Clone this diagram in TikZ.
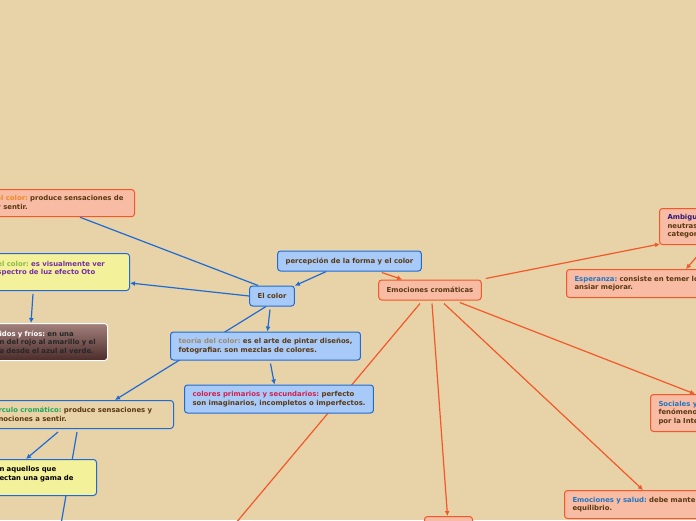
\documentclass[tikz,border=0pt]{standalone}
\usepackage{fontspec}
\setmainfont{DejaVu Sans}
\usepackage{xcolor}
\usetikzlibrary{arrows.meta,backgrounds}
\pgfdeclarelayer{edges}
\pgfsetlayers{background,edges,main}
\frenchspacing

\definecolor{bgcol}{HTML}{E8D3A8}
\definecolor{mapblue}{HTML}{1F6BD6}
\definecolor{bluefill}{HTML}{A8CAF8}
\definecolor{maporange}{HTML}{F2582A}
\definecolor{salmonfill}{HTML}{F8BBA3}
\definecolor{yellowfill}{HTML}{F4F19B}
\definecolor{txtbrown}{HTML}{5A3812}
\definecolor{lblorange}{HTML}{F08A24}
\definecolor{lblgreen}{HTML}{8DB84A}
\definecolor{lblpurple}{HTML}{7330A2}
\definecolor{lbltan}{HTML}{9C8A70}
\definecolor{lblcrimson}{HTML}{D0204C}
\definecolor{lblemerald}{HTML}{22A65A}
\definecolor{lblblue}{HTML}{1F78C1}
\definecolor{lblnavy}{HTML}{2E1A78}
\definecolor{browntop}{HTML}{A2807C}
\definecolor{brownbot}{HTML}{4C2C2A}

\begin{document}
\begin{tikzpicture}[
    x=1pt, y=-1pt,
    box/.style={draw, rounded corners=3pt, line width=1pt, inner xsep=8pt, inner ysep=6pt, align=left,
        text=txtbrown, font=\fontsize{6.9}{8.5}\selectfont\bfseries},
    bluebox/.style={box, draw=mapblue, fill=bluefill},
    salmonbox/.style={box, draw=maporange, fill=salmonfill},
    yellowbox/.style={box, draw=mapblue, fill=yellowfill},
    plainbox/.style={box, draw=mapblue},
    brownbox/.style={box, draw=white, top color=browntop, bottom color=brownbot, text=black!85},
    bluearrow/.style={draw=mapblue, line width=1.2pt, -{Latex[length=5pt,width=5pt]}},
    blueedge/.style={draw=mapblue, line width=1.2pt},
    orangearrow/.style={draw=maporange, line width=1.2pt, -{Latex[length=5pt,width=5pt]}},
    orangeedge/.style={draw=maporange, line width=1.2pt}
]
\useasboundingbox (0,0) rectangle (696,520);
\begin{pgfonlayer}{background}
\fill[bgcol] (0,0) rectangle (696,520);
\end{pgfonlayer}

\node[bluebox, minimum height=20pt] (percep) at (349.5,261) {percepción de la forma y el color};
\node[bluebox, minimum height=20pt] (elcolor) at (272,296) {El color};
\node[salmonbox, minimum height=20pt] (emoc) at (430,290) {Emociones cromáticas};

\node[bluebox, anchor=west, minimum height=28pt] (teoria) at (170,346)
    {{\color{lbltan}teoría del color:} es el arte de pintar diseños,\\fotografiar. son mezclas de colores.};
\node[bluebox, anchor=west, minimum height=28pt] (primarios) at (184,399)
    {{\color{lblcrimson}colores primarios y secundarios:} perfecto\\son imaginarios, incompletos o imperfectos.};

\node[salmonbox, anchor=north east, text width=130pt, minimum height=27pt] (sensacion) at (135,189)
    {{\color{lblorange}el color:} produce sensaciones de\\y sentir.};
\node[yellowbox, anchor=north east, text width=124pt, minimum height=37pt] (visual) at (130,253)
    {{\color{lblgreen}el color:} {\color{lblpurple}es visualmente ver}\\{\color{lblpurple}spectro de luz efecto Oto}\\\mbox{}};
\node[brownbox, anchor=north east, text width=100pt, minimum height=37pt] (calidos) at (108,323)
    {{\color{white}idos y fríos:} en una\\n del rojo al amarillo y el\\a desde el azul al verde.};
\node[plainbox, anchor=north east, text width=167pt, minimum height=28pt] (circulo) at (174,400)
    {{\color{lblemerald}rculo cromático:} produce sensaciones y\\nociones a sentir.};
\node[yellowbox, anchor=north east, text width=89pt, minimum height=36pt, text=black] (gama) at (97,459)
    {n aquellos que\\ectan una gama de\\\mbox{}};

\node[salmonbox, anchor=north west, text width=60pt, minimum height=36pt] (ambigu) at (659,208)
    {{\color{lblnavy}Ambigu}\\neutras\\categor};
\node[salmonbox, anchor=north west, text width=150pt, minimum height=28pt] (esperanza) at (566,269)
    {{\color{lblblue}Esperanza:} consiste en temer lo\\ansiar mejorar.};
\node[salmonbox, anchor=north west, text width=70pt, minimum height=37pt] (sociales) at (650,394)
    {{\color{lblblue}Sociales y}\\fenómeno\\por la Inte};
\node[salmonbox, anchor=north west, text width=150pt, minimum height=28pt] (salud) at (564,490)
    {{\color{lblblue}Emociones y salud:} debe mante\\equilibrio.};
\node[salmonbox, anchor=north west, minimum width=48pt, minimum height=20pt] (inferior) at (424,516) {};

\coordinate (fincirculo) at (60,530);
\coordinate (finemoc) at (230,530);

\begin{pgfonlayer}{edges}
\draw[bluearrow] (percep) -- (elcolor);
\draw[blueedge] ([xshift=9pt]elcolor.north west) -- ([xshift=-55pt]sensacion.south east);
\draw[bluearrow] (elcolor.west) -- ([yshift=-11pt]visual.east);
\draw[bluearrow] ([xshift=-2pt,yshift=-3pt]elcolor.south) -- ([xshift=2pt]teoria.north);
\draw[bluearrow] ([xshift=-6pt]elcolor.south) -- ([xshift=-59pt]circulo.north east);
\draw[bluearrow] ([xshift=5pt,yshift=-3pt]teoria.south) -- ([xshift=-4.5pt]primarios.north);
\draw[bluearrow] ([xshift=-97pt,yshift=-3pt]visual.south east) -- ([xshift=-77pt]calidos.north east);
\draw[bluearrow] ([xshift=-116pt,yshift=-3pt]circulo.south east) -- ([xshift=-71pt]gama.north east);
\draw[blueedge] ([xshift=-97pt,yshift=-3pt]circulo.south east) -- (fincirculo);

\draw[orangearrow] ([xshift=-40pt,yshift=-1pt]percep.south east) -- ([xshift=24pt]emoc.north west);
\draw[orangearrow] ([xshift=4pt,yshift=1pt]emoc.north east) -- ([xshift=1pt,yshift=1pt]ambigu.south west);
\draw[orangearrow] ([xshift=48pt]ambigu.south west) -- ([xshift=120pt]esperanza.north west);
\draw[orangeedge] ([xshift=-10pt,yshift=-3pt]emoc.south) -- (finemoc);
\draw[orangearrow] ([xshift=2pt,yshift=-3pt]emoc.south) -- ([xshift=-1pt]inferior.north);
\draw[orangearrow] ([xshift=14pt,yshift=-3pt]emoc.south) -- ([xshift=79pt]salud.north west);
\draw[orangearrow] ([xshift=-22pt,yshift=-2pt]emoc.south east) -- ([xshift=45pt]sociales.north west);
\end{pgfonlayer}
\end{tikzpicture}
\end{document}
